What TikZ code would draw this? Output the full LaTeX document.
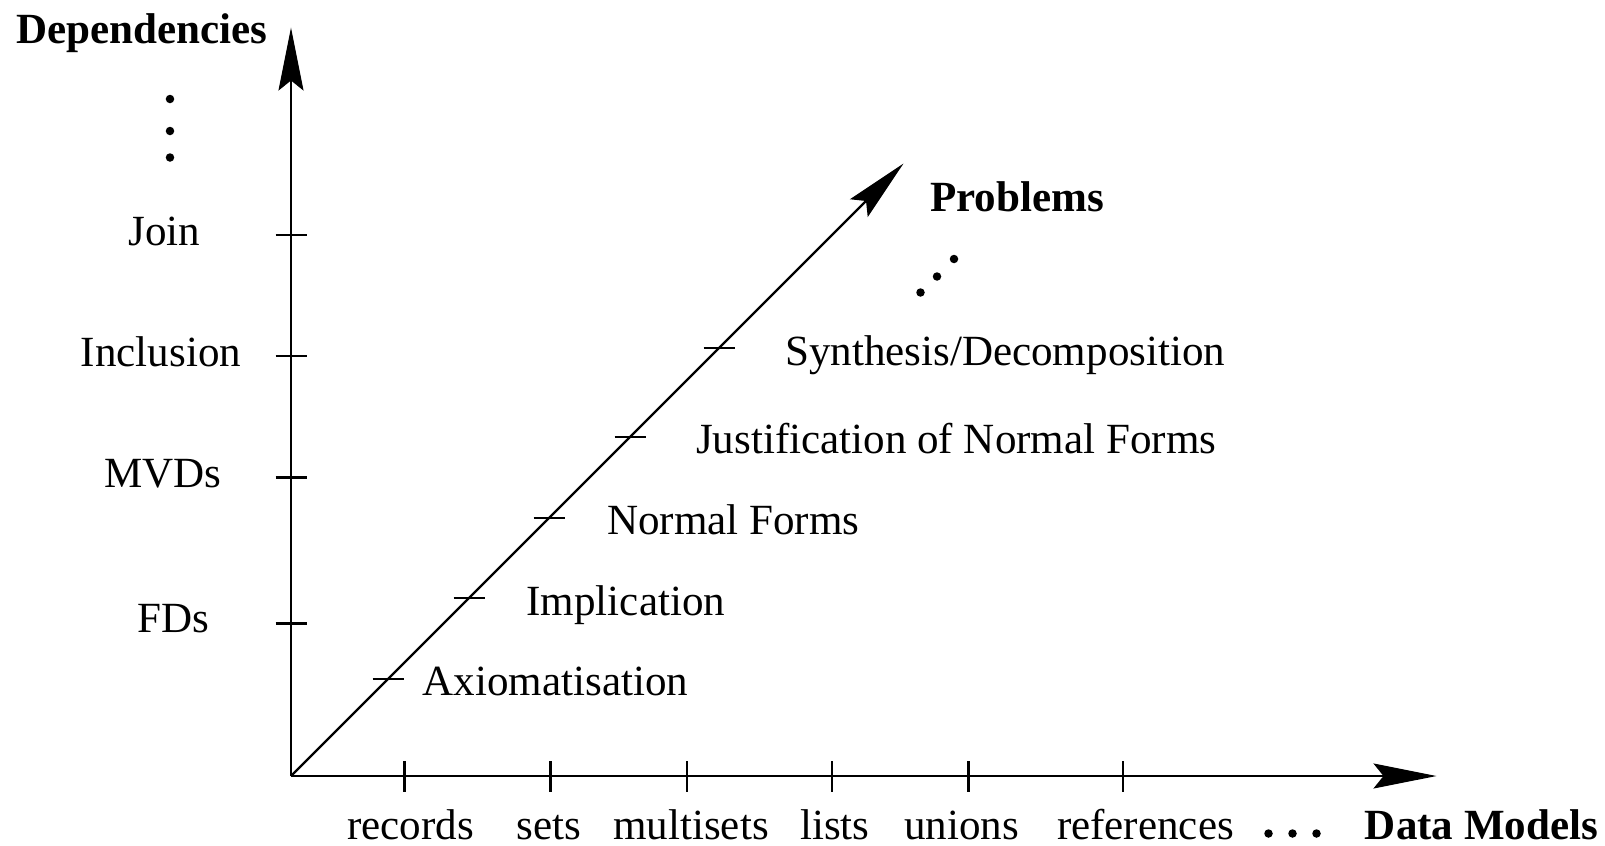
\documentclass[tikz,border=0pt]{standalone}
\usepackage{fontspec}
\setmainfont{Liberation Serif}
\usetikzlibrary{arrows.meta, positioning, calc}

\begin{document}
\begin{tikzpicture}[line width=1.25pt, font=\fontsize{24.5}{29}\selectfont,
  axisarrow/.style={-{Stealth[length=1.26cm, width=0.5cm, inset=0.2cm]}},
  lbl/.style={anchor=base, inner sep=0pt},
  dlbl/.style={anchor=base west, inner sep=0pt},
  axtitle/.style={anchor=base, inner sep=0pt, font=\fontsize{24.5}{29}\selectfont\bfseries}]
  \useasboundingbox (-5.82,-1.38) rectangle (26.28,15.52);
  % axes
  \coordinate (O) at (0,0);
  \coordinate (xend) at (22.91,0);
  \coordinate (yend) at (0,14.97);
  \coordinate (dend) at (12.25,12.25);
  \draw[axisarrow] (O) -- (xend);
  \draw[axisarrow] (O) -- (yend);
  \draw[axisarrow] (O) -- (dend);
  % ticks
  \foreach \x in {2.27,5.19,7.92,10.82,13.55,16.64}
    \draw (\x,-0.31) -- (\x,0.31);
  \foreach \y in {3.05,5.97,8.40,10.82}
    \draw (-0.31,\y) -- (0.31,\y);
  \foreach \t in {1.94,3.56,5.16,6.78,8.56}
    \draw (\t-0.31,\t) -- (\t+0.31,\t);
  % axis titles
  \node[axtitle] (deps) at (-2.98,14.66) {Dependencies};
  \node[axtitle] (probs) at (14.52,11.29) {Problems};
  \node[axtitle, text depth=0pt] (models) at (23.81,-1.26) {Data Models};
  % dependencies
  \node[lbl] (fds) at (-2.36,2.87) {FDs};
  \node[lbl] (mvds) at (-2.56,5.78) {MVDs};
  \node[lbl] (incl) at (-2.60,8.20) {Inclusion};
  \node[lbl] (join) at (-2.53,10.62) {Join};
  % problems
  \node[dlbl] (axiom) at (2.61,1.61) {Axiomatisation};
  \node[dlbl] (impl) at (4.69,3.21) {Implication};
  \node[dlbl] (nf) at (6.30,4.84) {Normal Forms};
  \node[dlbl] (just) at (8.08,6.45) {Justification of Normal Forms};
  \node[dlbl] (synth) at (9.86,8.21) {Synthesis/Decomposition};
  % data models
  \begin{scope}[every node/.style={text depth=0pt}]
    \node[lbl] (rec) at (2.39,-1.26) {records};
    \node[lbl] (sets) at (5.16,-1.26) {sets};
    \node[lbl] (mset) at (8.00,-1.26) {multisets};
    \node[lbl] (lists) at (10.88,-1.26) {lists};
    \node[lbl] (unions) at (13.41,-1.26) {unions};
    \node[lbl] (refs) at (17.09,-1.26) {references};
  \end{scope}
  % continuation dots
  \foreach \p in {(-2.42,13.54),(-2.42,12.90),(-2.42,12.37),
                  (12.59,9.67),(12.92,9.99),(13.26,10.34),
                  (19.55,-1.15),(20.03,-1.15),(20.51,-1.15)}
    \fill \p circle (0.085);
\end{tikzpicture}
\end{document}
